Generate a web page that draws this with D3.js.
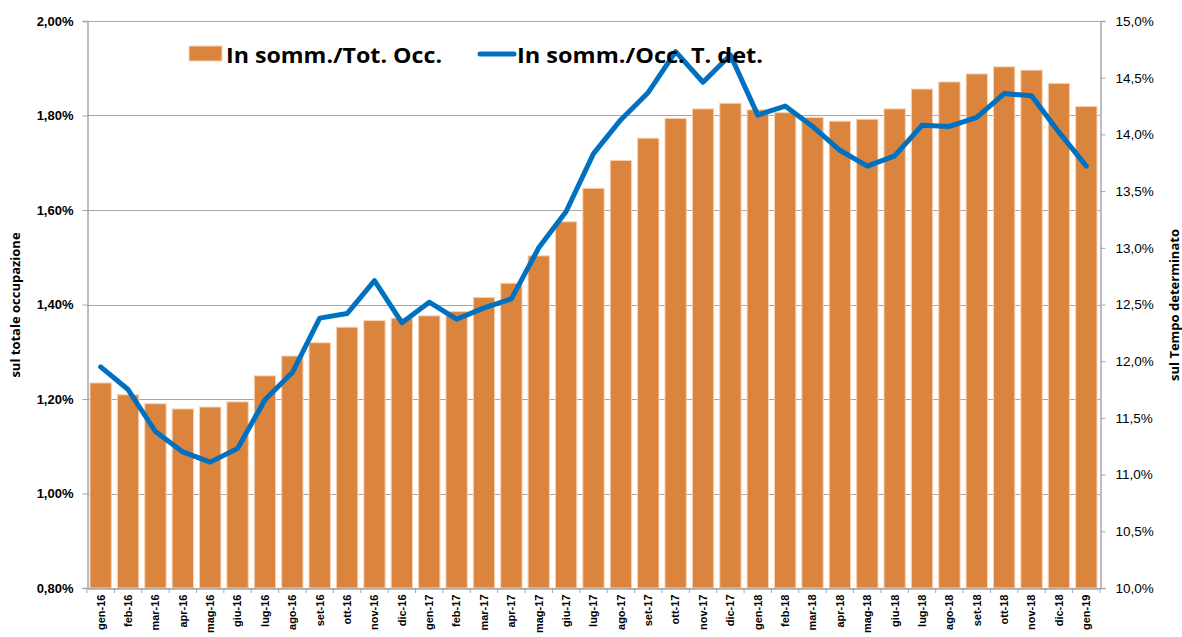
<!DOCTYPE html>
<html>
<head>
<meta charset="utf-8">
<script src="https://cdn.jsdelivr.net/npm/d3@7"></script>
<style>
  body { margin: 0; background: #fff; }
  svg { font-family: "Open Sans", "DejaVu Sans", sans-serif; }
</style>
</head>
<body>
<svg id="chart" width="1182" height="637"></svg>
<script>
var months = ["gen-16", "feb-16", "mar-16", "apr-16", "mag-16", "giu-16", "lug-16", "ago-16", "set-16", "ott-16", "nov-16", "dic-16",
  "gen-17", "feb-17", "mar-17", "apr-17", "mag-17", "giu-17", "lug-17", "ago-17", "set-17", "ott-17", "nov-17", "dic-17",
  "gen-18", "feb-18", "mar-18", "apr-18", "mag-18", "giu-18", "lug-18", "ago-18", "set-18", "ott-18", "nov-18", "dic-18",
  "gen-19"];

// In somm./Tot. Occ. (%)
var totOcc = [1.234, 1.209, 1.190, 1.179, 1.183, 1.194, 1.249, 1.291, 1.319, 1.352, 1.366, 1.371,
  1.376, 1.385, 1.415, 1.445, 1.503, 1.575, 1.646, 1.705, 1.752, 1.794, 1.814, 1.826,
  1.812, 1.806, 1.796, 1.788, 1.792, 1.814, 1.856, 1.871, 1.888, 1.903, 1.896, 1.868,
  1.819];

// In somm./Occ. T. det. (%)
var occTdet = [11.95, 11.75, 11.38, 11.20, 11.11, 11.23, 11.66, 11.90, 12.38, 12.42, 12.71, 12.34,
  12.52, 12.37, 12.47, 12.55, 13.00, 13.32, 13.83, 14.13, 14.37, 14.73, 14.46, 14.70,
  14.17, 14.25, 14.07, 13.86, 13.72, 13.81, 14.08, 14.07, 14.15, 14.36, 14.34, 14.02,
  13.72];

var leftTicks = [0.8, 1.0, 1.2, 1.4, 1.6, 1.8, 2.0];
var rightTicks = [10, 10.5, 11, 11.5, 12, 12.5, 13, 13.5, 14, 14.5, 15];

var seriesNames = ["In somm./Tot. Occ.", "In somm./Occ. T. det."];

var plotLeft = 87, plotRight = 1100, plotTop = 21, plotBottom = 588;
var svg = d3.select("#chart");

var x = d3.scaleBand().domain(months).range([plotLeft, plotRight]).paddingInner(0.22).paddingOuter(0.11);
var yL = d3.scaleLinear().domain([0.8, 2.0]).range([plotBottom, plotTop]);
var yR = d3.scaleLinear().domain([10, 15]).range([plotBottom, plotTop]);

var fmtL = function (d) { return d3.format(".2f")(d).replace(".", ",") + "%"; };
var fmtR = function (d) { return d3.format(".1f")(d).replace(".", ",") + "%"; };

// grid lines
svg.append("g").selectAll("line").data(leftTicks).enter().append("line")
  .attr("x1", plotLeft).attr("x2", plotRight)
  .attr("y1", function (d) { return Math.round(yL(d)) + 0.5; })
  .attr("y2", function (d) { return Math.round(yL(d)) + 0.5; })
  .attr("stroke", "#a6a6a6").attr("stroke-width", 1);

// bars
svg.append("g").selectAll("rect").data(totOcc).enter().append("rect")
  .attr("x", function (d, i) { return x(months[i]); })
  .attr("width", x.bandwidth())
  .attr("y", function (d) { return yL(d); })
  .attr("height", function (d) { return plotBottom - yL(d); })
  .attr("fill", "#db843d")
  .attr("stroke", "#f8d3b3").attr("stroke-width", 1);

// left axis
var axL = svg.append("g").attr("transform", "translate(" + (plotLeft + 0.5) + ",0)")
  .call(d3.axisLeft(yL).tickValues(leftTicks).tickFormat(fmtL).tickSize(5).tickPadding(9));
axL.select(".domain").attr("stroke", "#a6a6a6").attr("stroke-width", 1.5);
axL.selectAll(".tick line").attr("stroke", "#a6a6a6");
axL.selectAll(".tick text").attr("font-size", 13).attr("font-weight", "bold").attr("fill", "#000");

// right axis
var axR = svg.append("g").attr("transform", "translate(" + (plotRight + 0.5) + ",0)")
  .call(d3.axisRight(yR).tickValues(rightTicks).tickFormat(fmtR).tickSize(5).tickPadding(10));
axR.select(".domain").attr("stroke", "#a6a6a6").attr("stroke-width", 1.5);
axR.selectAll(".tick line").attr("stroke", "#a6a6a6");
axR.selectAll(".tick text").attr("font-size", 13.5).attr("fill", "#000");

// bottom axis
var axB = svg.append("g").attr("transform", "translate(0," + (plotBottom + 0.5) + ")")
  .call(d3.axisBottom(x).tickSize(0).tickPadding(0));
axB.select(".domain").attr("stroke", "#a6a6a6").attr("stroke-width", 1.5);
axB.selectAll(".tick text")
  .attr("font-size", 11).attr("font-weight", "bold").attr("fill", "#000")
  .attr("transform", "rotate(-90)")
  .attr("text-anchor", "end")
  .attr("x", -6).attr("y", 0).attr("dy", "0.35em");
svg.append("g").selectAll("line").data(d3.range(months.length + 1)).enter().append("line")
  .attr("x1", function (i) { return plotLeft + i * (plotRight - plotLeft) / months.length; })
  .attr("x2", function (i) { return plotLeft + i * (plotRight - plotLeft) / months.length; })
  .attr("y1", plotBottom).attr("y2", plotBottom + 5)
  .attr("stroke", "#a6a6a6");

// line
var line = d3.line()
  .x(function (d, i) { return x(months[i]) + x.bandwidth() / 2; })
  .y(function (d) { return yR(d); });
svg.append("path").datum(occTdet)
  .attr("d", line)
  .attr("fill", "none")
  .attr("stroke", "#0070c0").attr("stroke-width", 5)
  .attr("stroke-linejoin", "round").attr("stroke-linecap", "round");

// axis titles
svg.append("text").attr("transform", "translate(20,305) rotate(-90)")
  .attr("text-anchor", "middle").attr("font-size", 13).attr("font-weight", "bold")
  .text("sul totale occupazione");
svg.append("text").attr("transform", "translate(1179,305) rotate(-90)")
  .attr("text-anchor", "middle").attr("font-size", 13).attr("font-weight", "bold")
  .text("sul Tempo determinato");

// legend
var lg = svg.append("g");
lg.append("rect").attr("x", 189).attr("y", 46).attr("width", 33).attr("height", 15)
  .attr("fill", "#db843d").attr("stroke", "#f8d3b3");
lg.append("text").attr("x", 226).attr("y", 63).attr("font-size", 22).attr("font-weight", "bold")
  .attr("textLength", 216).attr("lengthAdjust", "spacingAndGlyphs")
  .text(seriesNames[0]);
lg.append("line").attr("x1", 480).attr("x2", 514).attr("y1", 54).attr("y2", 54)
  .attr("stroke", "#0070c0").attr("stroke-width", 5).attr("stroke-linecap", "round");
lg.append("text").attr("x", 517).attr("y", 63).attr("font-size", 22).attr("font-weight", "bold")
  .attr("textLength", 246).attr("lengthAdjust", "spacingAndGlyphs")
  .text(seriesNames[1]);
</script>
</body>
</html>
